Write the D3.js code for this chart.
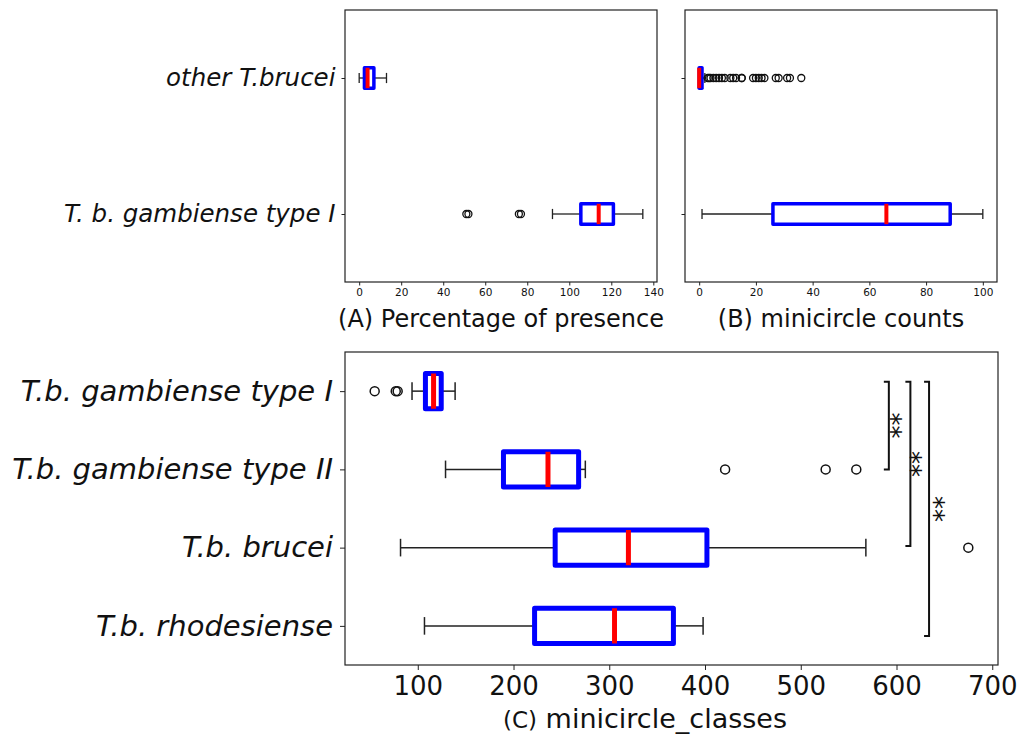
<!DOCTYPE html>
<html>
<head>
<meta charset="utf-8">
<script src="https://cdn.jsdelivr.net/npm/d3@7"></script>
<style>
  body { margin: 0; background: #fff; }
  text { font-family: "DejaVu Sans", sans-serif; }
</style>
</head>
<body>
<script>
// panels A and B share their categories (bottom row first)
var top_categories = ['T. b. gambiense type I', 'other T.brucei'];
// box stats: [whisker low, q1, median, q3, whisker high]
var presence_boxes = [[92, 105.5, 114, 121, 135], [0, 2.5, 4, 7, 13]];
var presence_outliers = [[51, 52, 76, 77], []];
var counts_boxes = [[1, 26, 66, 88.5, 100], [0, 0, 0, 1, 2]];
var counts_outliers = [[], [3, 3.5, 4, 5, 6, 7, 8, 9, 11, 12, 13, 15, 15, 19, 20, 21, 22, 23, 27, 28, 31, 32, 36]];

// panel C (bottom row first)
var class_categories = ['T.b. rhodesiense', 'T.b. brucei', 'T.b. gambiense type II', 'T.b. gambiense type I'];
var class_boxes = [[107, 222, 305.5, 367, 398], [82, 243.5, 320, 402, 568], [129, 189.5, 236, 268, 275], [94, 108, 116.5, 124.5, 139]];
var class_outliers = [[], [675], [421, 526, 558], [55, 77, 79]];

var presence_ticks = [0, 20, 40, 60, 80, 100, 120, 140];
var counts_ticks = [0, 20, 40, 60, 80, 100];
var class_ticks = [100, 200, 300, 400, 500, 600, 700];

// significance brackets (x in data units, y in category positions)
var bracket_x = [592, 614.5, 634];
var bracket_top = [4.12, 4.12, 4.12];
var bracket_bottom = [3, 2.02, 0.87];
var star_x = [601, 621.5, 645];
var star_labels = ['**', '**', '**'];

var svg = d3.select('body').append('svg').attr('width', 1018).attr('height', 738);

// draws one horizontal boxplot row
function draw_box(g, x_scale, y_scale, pos, stats, outliers, opt) {
    var yc = y_scale(pos);
    var half = Math.abs(y_scale(pos + opt.width / 2) - y_scale(pos));
    var cap = half / 2;
    // whiskers
    g.append('line').attr('x1', x_scale(stats[0])).attr('x2', x_scale(stats[1]))
        .attr('y1', yc).attr('y2', yc).attr('stroke', '#222').attr('stroke-width', opt.thin);
    g.append('line').attr('x1', x_scale(stats[3])).attr('x2', x_scale(stats[4]))
        .attr('y1', yc).attr('y2', yc).attr('stroke', '#222').attr('stroke-width', opt.thin);
    // caps
    [stats[0], stats[4]].forEach(function(v) {
        g.append('line').attr('x1', x_scale(v)).attr('x2', x_scale(v))
            .attr('y1', yc - cap).attr('y2', yc + cap).attr('stroke', '#222').attr('stroke-width', opt.thin);
    });
    // box
    g.append('rect').attr('x', x_scale(stats[1])).attr('y', yc - half)
        .attr('width', Math.max(0.01, x_scale(stats[3]) - x_scale(stats[1]))).attr('height', 2 * half)
        .attr('fill', 'none').attr('stroke', '#0000ff').attr('stroke-width', opt.box_stroke)
        .attr('stroke-linejoin', 'round');
    // median
    g.append('line').attr('x1', x_scale(stats[2])).attr('x2', x_scale(stats[2]))
        .attr('y1', yc - half).attr('y2', yc + half).attr('stroke', '#ff0000').attr('stroke-width', opt.med_stroke);
    // fliers
    g.selectAll(null).data(outliers).enter().append('circle')
        .attr('cx', d => x_scale(d)).attr('cy', yc).attr('r', opt.r)
        .attr('fill', 'none').attr('stroke', '#111').attr('stroke-width', opt.thin);
}

function style_axis(sel, size) {
    sel.select('.domain').remove();
    sel.selectAll('.tick line').attr('stroke', '#222');
    sel.selectAll('.tick text').attr('fill', '#111').style('font-size', size + 'px')
        .style('font-family', '"DejaVu Sans", sans-serif');
}

function panel(cfg) {
    var x_scale = d3.scaleLinear().domain(cfg.x_domain).range([cfg.left, cfg.right]);
    var y_scale = d3.scaleLinear().domain(cfg.y_domain).range([cfg.bottom, cfg.top]);
    var g = svg.append('g');

    var xa = g.append('g').attr('transform', 'translate(0,' + cfg.bottom + ')')
        .call(d3.axisBottom(x_scale).tickValues(cfg.ticks).tickSize(cfg.tick_len).tickPadding(cfg.tick_pad));
    style_axis(xa, cfg.tick_font);

    var ya = g.append('g').attr('transform', 'translate(' + cfg.left + ',0)')
        .call(d3.axisLeft(y_scale).tickValues(cfg.categories.map((c, i) => i + 1))
            .tickFormat(cfg.show_labels ? (d => cfg.categories[d - 1]) : '')
            .tickSize(cfg.tick_len).tickPadding(cfg.label_pad));
    style_axis(ya, cfg.label_font);
    ya.selectAll('.tick text').style('font-style', 'italic');

    cfg.boxes.forEach(function(stats, i) {
        draw_box(g, x_scale, y_scale, i + 1, stats, cfg.outliers[i], cfg.box_opt);
    });

    g.append('rect').attr('x', cfg.left).attr('y', cfg.top)
        .attr('width', cfg.right - cfg.left).attr('height', cfg.bottom - cfg.top)
        .attr('fill', 'none').attr('stroke', '#222').attr('stroke-width', 1.2);

    var lab = g.append('text').attr('x', cfg.xlabel_x).attr('y', cfg.xlabel_y)
        .attr('text-anchor', 'middle').style('font-size', cfg.xlabel_font + 'px')
        .attr('fill', '#111');
    lab.append('tspan').style('font-size', cfg.prefix_font + 'px').text(cfg.xlabel_prefix);
    lab.append('tspan').text(cfg.xlabel);

    return {g: g, x: x_scale, y: y_scale};
}

var top_opt = {width: 0.15, thin: 1.3, box_stroke: 3.5, med_stroke: 4, r: 3.5};

panel({left: 345, right: 657, top: 10, bottom: 282,
    x_domain: [-6.75, 141.75], y_domain: [0.5, 2.5], ticks: presence_ticks,
    tick_len: 3.5, tick_pad: 3.5, tick_font: 10.5,
    categories: top_categories, show_labels: true, label_font: 24.5, label_pad: 6,
    boxes: presence_boxes, outliers: presence_outliers, box_opt: top_opt,
    xlabel_prefix: '(A)', prefix_font: 24, xlabel: ' Percentage of presence',
    xlabel_x: 501, xlabel_y: 327, xlabel_font: 24});

panel({left: 685, right: 997, top: 10, bottom: 282,
    x_domain: [-5, 105], y_domain: [0.5, 2.5], ticks: counts_ticks,
    tick_len: 3.5, tick_pad: 3.5, tick_font: 10.5,
    categories: top_categories, show_labels: false, label_font: 24, label_pad: 6,
    boxes: counts_boxes, outliers: counts_outliers, box_opt: top_opt,
    xlabel_prefix: '(B)', prefix_font: 24, xlabel: ' minicircle counts',
    xlabel_x: 841, xlabel_y: 327, xlabel_font: 24});

var c = panel({left: 345, right: 998, top: 352, bottom: 665,
    x_domain: [24, 706], y_domain: [0.5, 4.5], ticks: class_ticks,
    tick_len: 5, tick_pad: 7, tick_font: 26,
    categories: class_categories, show_labels: true, label_font: 29, label_pad: 7,
    boxes: class_boxes, outliers: class_outliers,
    box_opt: {width: 0.45, thin: 1.5, box_stroke: 5, med_stroke: 5, r: 4.5},
    xlabel_prefix: '(C)', prefix_font: 23, xlabel: ' minicircle_classes',
    xlabel_x: 645, xlabel_y: 728, xlabel_font: 27});

// significance brackets
bracket_x.forEach(function(bx, i) {
    var x0 = c.x(bx), y0 = c.y(bracket_top[i]), y1 = c.y(bracket_bottom[i]);
    c.g.append('path')
        .attr('d', 'M' + (x0 - 5) + ',' + y0 + 'H' + x0 + 'V' + y1 + 'H' + (x0 - 5))
        .attr('fill', 'none').attr('stroke', '#111').attr('stroke-width', 2);
    var ym = (y0 + y1) / 2;
    c.g.append('text')
        .attr('transform', 'translate(' + (c.x(star_x[i]) - 15) + ',' + ym + ') rotate(90)')
        .attr('text-anchor', 'middle').style('font-size', '26px').attr('fill', '#111')
        .text(star_labels[i]);
});
</script>
</body>
</html>
